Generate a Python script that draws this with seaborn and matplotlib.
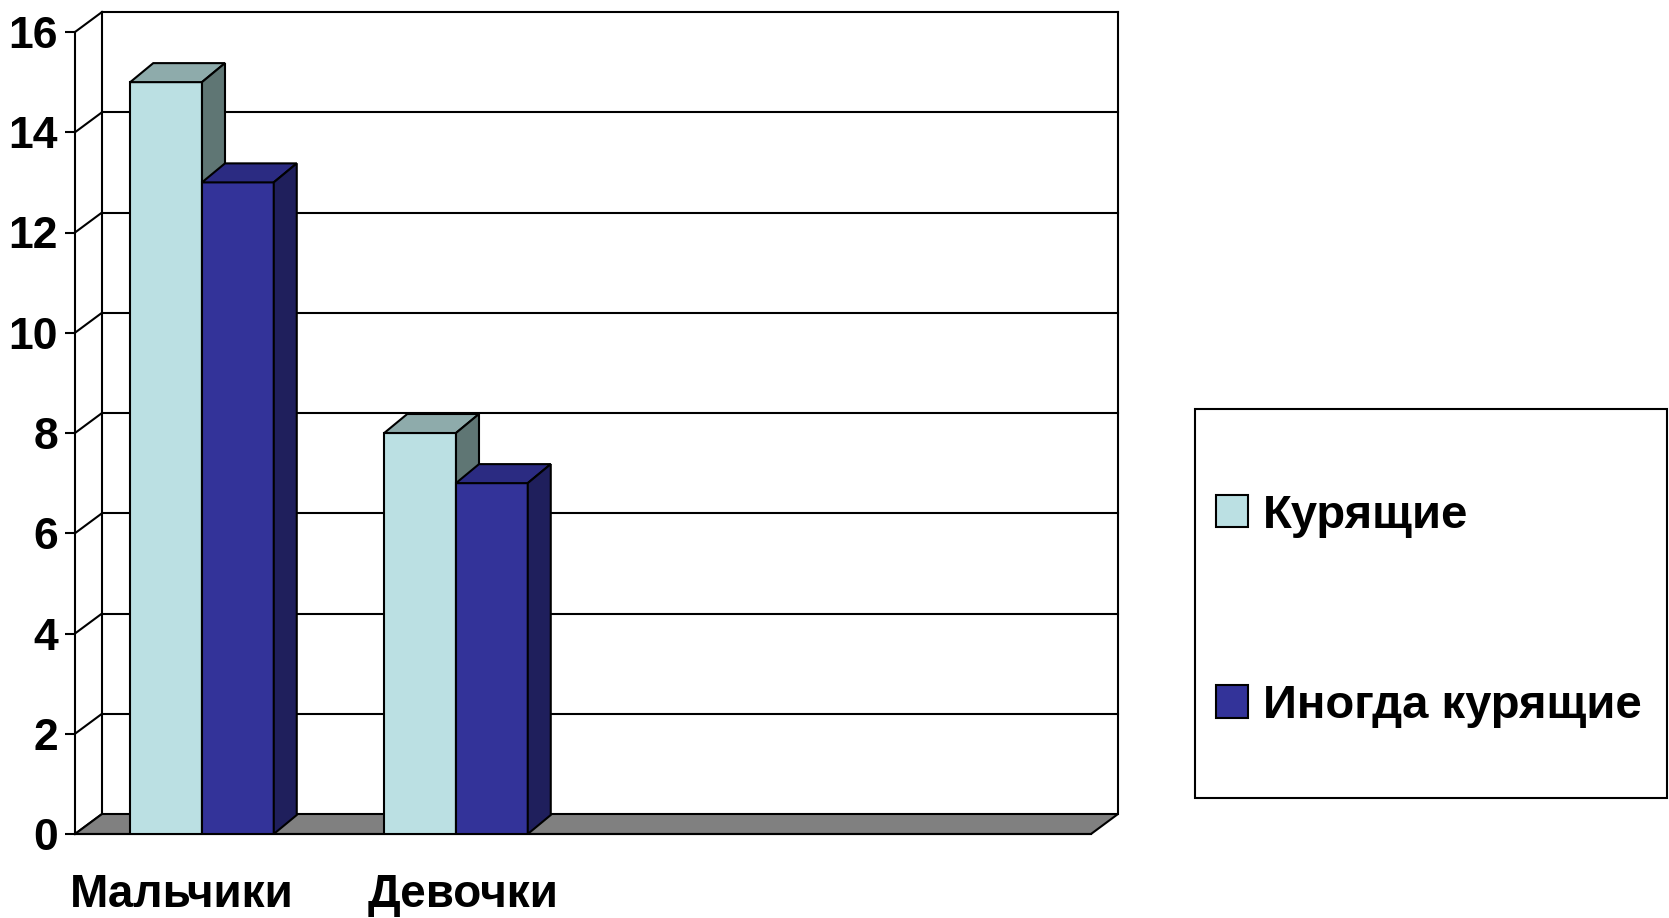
import pandas as pd
import matplotlib
matplotlib.use('Agg')
import matplotlib.pyplot as plt
import matplotlib.transforms as mtrans
from matplotlib.patches import Polygon, Rectangle, Patch
import seaborn as sns

groups = ['Мальчики', 'Девочки']
series = ['Курящие', 'Иногда курящие']
kurjashchie = [15, 8]
inogda = [13, 7]
yticks = list(range(0, 17, 2))
n_slots = 4  # the excel chart keeps room for 4 categories

front_colors = ['#BBE0E3', '#333399']
top_colors = ['#8EABAB', '#2B2B82']
side_colors = ['#5F7674', '#1F1F5C']

df = pd.DataFrame({'group': groups * 2,
                   'series': [series[0]] * 2 + [series[1]] * 2,
                   'value': kurjashchie + inogda})

sns.set_style('white')
plt.rcParams['font.family'] = ['Liberation Sans', 'DejaVu Sans']
plt.rcParams['font.weight'] = 'bold'
plt.rcParams['text.color'] = 'black'
plt.rcParams['xtick.color'] = 'black'
plt.rcParams['ytick.color'] = 'black'

W, H = 1669, 918
fig = plt.figure(figsize=(W / 100, H / 100), dpi=100)
x0, x1, y0, y1 = 75, 1091, 834, 32
ax = fig.add_axes([x0 / W, 1 - y0 / H, (x1 - x0) / W, (y0 - y1) / H])

sns.barplot(data=df, x='group', y='value', hue='series', order=groups, hue_order=series,
            palette=front_colors, saturation=1, width=0.565, edgecolor='black',
            linewidth=1.5, legend=False, ax=ax)
ax.set_xlim(-0.5, n_slots - 0.5)
ax.set_ylim(0, 16)

# front faces from seaborn, sorted left to right for painter's order
bars = sorted([b for c in ax.containers for b in c], key=lambda p: p.get_x())

# 3d depth in data units
px_x = (x1 - x0) / n_slots
px_y = (y0 - y1) / 16
wdx, wdy = 27 / px_x, 20 / px_y
bdx, bdy = 23 / px_x, 19 / px_y
left, right = -0.5, n_slots - 0.5

lk = dict(color='black', lw=1.5, zorder=1, clip_on=False, solid_capstyle='projecting')
for v in yticks:
    ax.plot([left, left + wdx], [v, v + wdy], **lk)
    if v > 0:
        ax.plot([left + wdx, right + wdx], [v + wdy, v + wdy], **lk)
ax.plot([left + wdx] * 2, [wdy, 16 + wdy], **lk)
ax.plot([right + wdx] * 2, [wdy, 16 + wdy], **lk)
ax.add_patch(Polygon([(left, 0), (right, 0), (right + wdx, wdy), (left + wdx, wdy)],
                     closed=True, fc='#808080', ec='black', lw=1.5, zorder=2, clip_on=False))

for i, bar in enumerate(bars):
    k = i % 2
    x, w, h = bar.get_x(), bar.get_width(), bar.get_height()
    z = 3 + i
    bar.set_zorder(z)
    ax.add_patch(Polygon([(x, h), (x + w, h), (x + w + bdx, h + bdy), (x + bdx, h + bdy)],
                         closed=True, fc=top_colors[k], ec='black', lw=1.5, zorder=z, clip_on=False))
    ax.add_patch(Polygon([(x + w, 0), (x + w + bdx, bdy), (x + w + bdx, h + bdy), (x + w, h)],
                         closed=True, fc=side_colors[k], ec='black', lw=1.5, zorder=z, clip_on=False))

for s in ['top', 'right']:
    ax.spines[s].set_visible(False)
for s in ['left', 'bottom']:
    ax.spines[s].set_color('black')
    ax.spines[s].set_linewidth(1.5)
    ax.spines[s].set_zorder(2.5)

ax.set_yticks(yticks)
ax.set_yticklabels([str(v) for v in yticks], fontsize=32, fontweight='bold')
ax.tick_params(axis='y', left=True, length=7.2, width=1.5, pad=5, color='black')
ax.set_xticks(range(len(groups)))
ax.set_xticklabels(groups, fontsize=33, fontweight='bold')
ax.tick_params(axis='x', bottom=False, length=0, pad=28)
ax.set_xlabel('')
ax.set_ylabel('')
# excel puts the category captions a little off-centre
for lab, shift in zip(ax.get_xticklabels(), [-20, 7]):
    lab.set_transform(lab.get_transform() + mtrans.ScaledTranslation(shift / 100, 0, fig.dpi_scale_trans))

# legend box
fig.add_artist(Rectangle((1195 / W, 1 - 798 / H), (1667 - 1195) / W, (798 - 409) / H,
                         transform=fig.transFigure, fill=False, ec='black', lw=1.5))
handles = [Patch(fc=c, ec='black', lw=1.5) for c in front_colors]
fig.legend(handles, series, loc='center left', bbox_to_anchor=(1216 / W, 1 - 611 / H),
           frameon=False, borderpad=0, borderaxespad=0, prop={'weight': 'bold', 'size': 34},
           handlelength=0.68, handleheight=0.68, handletextpad=0.32, labelspacing=3.1)

fig.savefig('out.png', dpi=100, facecolor='white')
